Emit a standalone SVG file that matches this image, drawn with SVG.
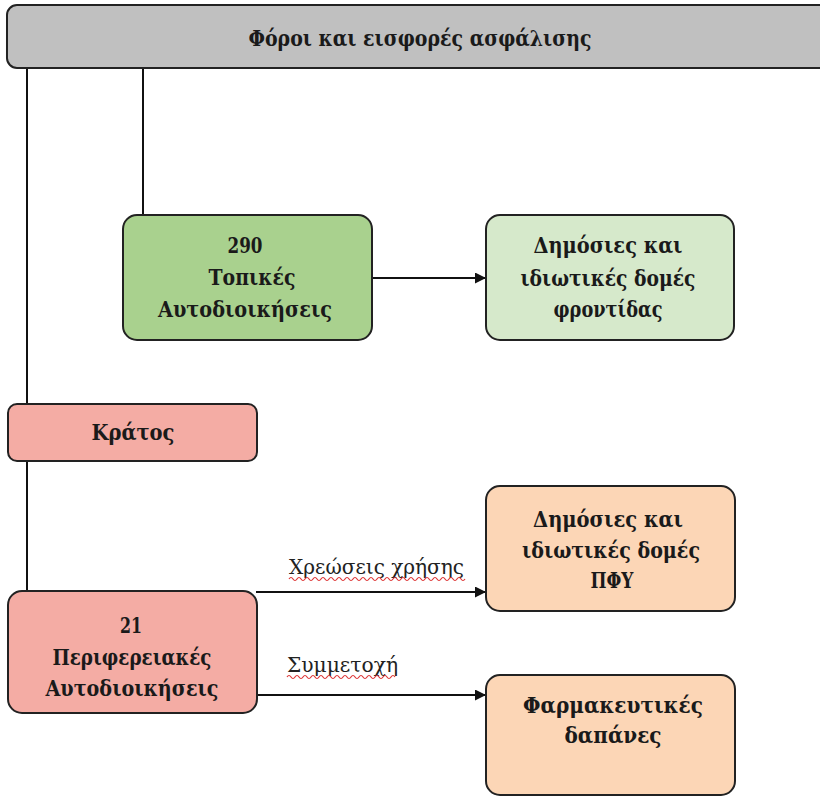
<svg xmlns="http://www.w3.org/2000/svg" width="820" height="797" viewBox="0 0 820 797">
  <defs>
    <marker id="arrow" viewBox="0 0 10 10" refX="10" refY="5" markerWidth="11" markerHeight="11" markerUnits="userSpaceOnUse" orient="auto">
      <path d="M0,0 L10,5 L0,10 z" fill="#111"/>
    </marker>
    <style>
      .box { stroke: #222; stroke-width: 2; }
      .t { font-family: "DejaVu Serif", "Liberation Serif", serif; font-weight: bold; font-size: 23px; fill: #1a1a1a; text-anchor: middle; }
      .lbl { font-family: "DejaVu Serif", "Liberation Serif", serif; font-size: 21px; fill: #222; }
      .wire { stroke: #111; stroke-width: 2; fill: none; }
      .squig { stroke: #d33; stroke-width: 1.2; fill: none; }
    </style>
  </defs>

  <rect width="820" height="797" fill="#ffffff"/>

  <!-- connectors -->
  <g id="connectors">
    <line class="wire" x1="27" y1="68" x2="27" y2="592"/>
    <line class="wire" x1="143" y1="68" x2="143" y2="215"/>
    <line class="wire" x1="372" y1="278" x2="486" y2="278" marker-end="url(#arrow)"/>
    <line class="wire" x1="256" y1="592" x2="486" y2="592" marker-end="url(#arrow)"/>
    <line class="wire" x1="256" y1="695" x2="486" y2="695" marker-end="url(#arrow)"/>
    <text class="lbl" x="289" y="574" textLength="175" lengthAdjust="spacingAndGlyphs">Χρεώσεις χρήσης</text>
    <path class="squig" d="M289,579 q2,-3 4,0 t4,0 t4,0 t4,0 t4,0 t4,0 t4,0 t4,0 t4,0 t4,0 t4,0 t4,0 t4,0 t4,0 t4,0 t4,0 t4,0 t4,0 t4,0 t4,0 t4,0 t4,0 t4,0 t4,0 t4,0 t4,0 t4,0 t4,0 t4,0 t4,0 t4,0 t4,0 t4,0 t4,0 t4,0 t4,0 t4,0 t4,0 t4,0 t4,0 t4,0 t4,0 t4,0 t4,0"/>
    <text class="lbl" x="287" y="672" textLength="111" lengthAdjust="spacingAndGlyphs">Συμμετοχή</text>
    <path class="squig" d="M287,677 q2,-3 4,0 t4,0 t4,0 t4,0 t4,0 t4,0 t4,0 t4,0 t4,0 t4,0 t4,0 t4,0 t4,0 t4,0 t4,0 t4,0 t4,0 t4,0 t4,0 t4,0 t4,0 t4,0 t4,0 t4,0 t4,0 t4,0 t4,0"/>
  </g>

  <g id="taxes">
    <rect class="box" x="7" y="5" width="830" height="63" rx="10" fill="#c0c0c0"/>
    <text class="t" x="420" y="46" textLength="343" lengthAdjust="spacingAndGlyphs">Φόροι και εισφορές ασφάλισης</text>
  </g>

  <g id="local-gov">
    <rect class="box" x="123" y="215" width="249" height="125" rx="14" fill="#a9d18e"/>
    <text class="t" x="245" y="253" textLength="35" lengthAdjust="spacingAndGlyphs">290</text>
    <text class="t" x="252" y="285" textLength="87" lengthAdjust="spacingAndGlyphs">Τοπικές</text>
    <text class="t" x="245" y="317" textLength="174" lengthAdjust="spacingAndGlyphs">Αυτοδιοικήσεις</text>
  </g>

  <g id="care-structures">
    <rect class="box" x="486" y="215" width="248" height="125" rx="14" fill="#d6e9cb"/>
    <text class="t" x="608" y="253" textLength="149" lengthAdjust="spacingAndGlyphs">Δημόσιες και</text>
    <text class="t" x="608" y="286" textLength="175" lengthAdjust="spacingAndGlyphs">ιδιωτικές δομές</text>
    <text class="t" x="608" y="317" textLength="109" lengthAdjust="spacingAndGlyphs">φροντίδας</text>
  </g>

  <g id="state">
    <rect class="box" x="8" y="404" width="249" height="57" rx="9" fill="#f4aca4"/>
    <text class="t" x="133" y="440" textLength="83" lengthAdjust="spacingAndGlyphs">Κράτος</text>
  </g>

  <g id="regional-gov">
    <rect class="box" x="8" y="591" width="249" height="122" rx="14" fill="#f4aca4"/>
    <text class="t" x="131" y="633" textLength="22" lengthAdjust="spacingAndGlyphs">21</text>
    <text class="t" x="132" y="665" textLength="159" lengthAdjust="spacingAndGlyphs">Περιφερειακές</text>
    <text class="t" x="132" y="696" textLength="173" lengthAdjust="spacingAndGlyphs">Αυτοδιοικήσεις</text>
  </g>

  <g id="phc-structures">
    <rect class="box" x="486" y="486" width="249" height="125" rx="14" fill="#fcd6b6"/>
    <text class="t" x="608" y="527" textLength="150" lengthAdjust="spacingAndGlyphs">Δημόσιες και</text>
    <text class="t" x="611" y="558" textLength="178" lengthAdjust="spacingAndGlyphs">ιδιωτικές δομές</text>
    <text class="t" x="612" y="588" textLength="43" lengthAdjust="spacingAndGlyphs">ΠΦΥ</text>
  </g>

  <g id="pharma">
    <rect class="box" x="486" y="675" width="249" height="120" rx="14" fill="#fcd6b6"/>
    <text class="t" x="613" y="713" textLength="180" lengthAdjust="spacingAndGlyphs">Φαρμακευτικές</text>
    <text class="t" x="613" y="743" textLength="97" lengthAdjust="spacingAndGlyphs">δαπάνες</text>
  </g>
</svg>
